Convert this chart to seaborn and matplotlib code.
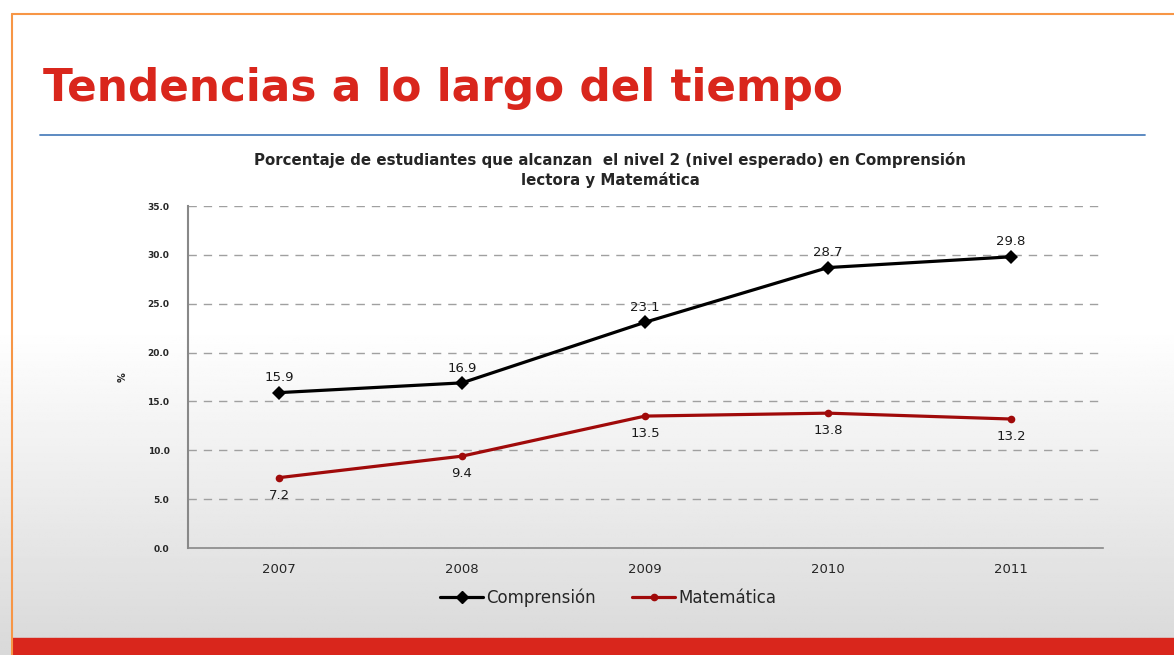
import numpy as np
import pandas as pd
import matplotlib
matplotlib.use("Agg")
import matplotlib.pyplot as plt
import seaborn as sns
from matplotlib.lines import Line2D
from matplotlib.patches import Rectangle

years = ["2007", "2008", "2009", "2010", "2011"]
comprension = [15.9, 16.9, 23.1, 28.7, 29.8]
matematica = [7.2, 9.4, 13.5, 13.8, 13.2]
series_names = ["Comprensión", "Matemática"]
yticks = [0, 5, 10, 15, 20, 25, 30, 35]

sns.set_theme(style="white")
plt.rcParams["font.family"] = ["DejaVu Sans"]

W, H = 1174, 655
fig = plt.figure(figsize=(W / 100, H / 100), dpi=100)

# background gradient
bg = fig.add_axes([0, 0, 1, 1], zorder=0)
bg.set_axis_off()
rows = np.linspace(0, 1, 300)
vals = np.where(rows < 0.5, 1.0, 1.0 - (rows - 0.5) / 0.5 * 0.15)
grad = np.tile(vals[:, None], (1, 10))
bg.imshow(grad, cmap="gray", vmin=0, vmax=1, aspect="auto", extent=[0, 1, 0, 1], origin="upper")
bg.set_xlim(0, 1)
bg.set_ylim(0, 1)
bg.plot([12 / W, 12 / W], [0, 1 - 14 / H], color="#f79646", lw=1.5, transform=bg.transAxes)
bg.plot([12 / W, 1], [1 - 14 / H, 1 - 14 / H], color="#f79646", lw=1.5, transform=bg.transAxes)
bg.add_patch(Rectangle((12 / W, 0), 1, 17 / H, color="#d9261c", transform=bg.transAxes))
bg.plot([40 / W, 1145 / W], [1 - 135 / H, 1 - 135 / H], color="#4f81bd", lw=1.3, transform=bg.transAxes)

fig.text(43 / W, 1 - 89 / H, "Tendencias a lo largo del tiempo", color="#d9261c",
         fontsize=31.5, fontweight="bold", va="center", ha="left", family="DejaVu Sans")

ax = fig.add_axes([187.5 / W, 1 - 548 / H, 915 / W, 342 / H], zorder=1)
ax.patch.set_alpha(0)

df = pd.DataFrame({
    "year": years * 2,
    "value": comprension + matematica,
    "serie": [series_names[0]] * len(years) + [series_names[1]] * len(years),
})
palette = {series_names[0]: "#000000", series_names[1]: "#a00a0a"}
sns.lineplot(data=df, x="year", y="value", hue="serie", style="serie",
             markers={series_names[0]: "D", series_names[1]: "o"}, dashes=False,
             palette=palette, linewidth=2.3, markersize=7.5, markeredgewidth=0,
             ax=ax, legend=False, sort=False)
for line in ax.lines:
    if line.get_color() == "#a00a0a":
        line.set_markersize(5.5)

for i, v in enumerate(comprension):
    ax.annotate(f"{v:.1f}", (i, v), xytext=(0, 6), textcoords="offset points",
                ha="center", va="bottom", fontsize=9.5, color="#1a1a1a")
for i, v in enumerate(matematica):
    ax.annotate(f"{v:.1f}", (i, v), xytext=(0, -8), textcoords="offset points",
                ha="center", va="top", fontsize=9.5, color="#1a1a1a")

ax.set_xlim(-0.5, 4.5)
ax.set_ylim(0, 35)
ax.set_yticks(yticks)
ax.set_yticklabels([f"{t:.1f}" for t in yticks], fontsize=6.5, fontweight="bold")
ax.tick_params(axis="y", length=5, width=1, color="#888888", pad=8)
ax.tick_params(axis="x", length=0, pad=11, labelsize=9.5)
for y in yticks[1:]:
    ax.axhline(y, color="#a0a0a0", lw=1, ls=(0, (6, 5)), zorder=0)
for s in ["top", "right"]:
    ax.spines[s].set_visible(False)
ax.spines["left"].set_color("#888888")
ax.spines["bottom"].set_color("#888888")
ax.spines["left"].set_linewidth(1.5)
ax.spines["bottom"].set_linewidth(1.2)
ax.set_xlabel("")
ax.set_ylabel("%", fontsize=7, fontweight="bold", rotation=90, labelpad=14)
ax.set_title("Porcentaje de estudiantes que alcanzan  el nivel 2 (nivel esperado) en Comprensión\nlectora y Matemática",
             fontsize=10.8, fontweight="bold", pad=15, x=0.462, linespacing=1.3)

handles = [Line2D([], [], color="#000000", marker="D", markersize=6, lw=2.3),
           Line2D([], [], color="#a00a0a", marker="o", markersize=4.5, lw=2.3)]
fig.legend(handles, series_names, loc="center", bbox_to_anchor=(608 / W, 1 - 598 / H),
           ncol=2, frameon=False, fontsize=12, handlelength=2.6, handletextpad=0.15,
           columnspacing=2.2)

fig.savefig("out.png", dpi=100)
